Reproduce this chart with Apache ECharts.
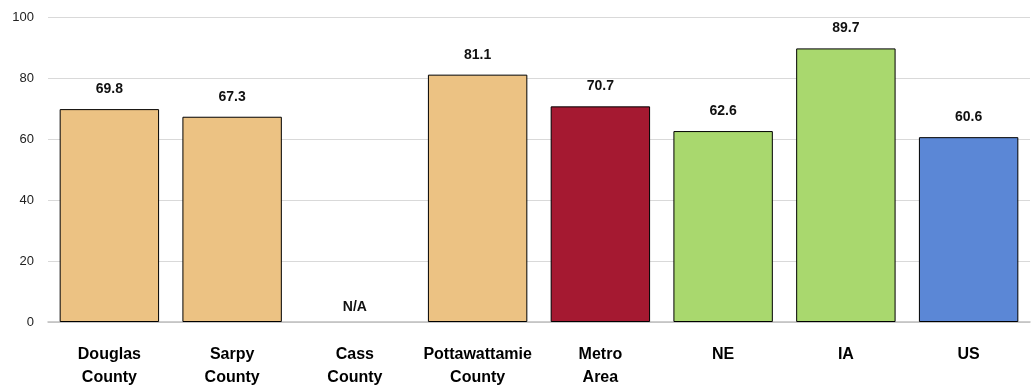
<!DOCTYPE html>
<html>
<head>
<meta charset="utf-8">
<script src="https://cdn.jsdelivr.net/npm/echarts@6/dist/echarts.min.js"></script>
<style>
  html, body { margin: 0; padding: 0; background: #fff; }
  #main { width: 1031px; height: 387px; }
</style>
</head>
<body>
<div id="main"></div>
<script>
// areas and their values (Cass County has no data)
var categories = ['Douglas\nCounty', 'Sarpy\nCounty', 'Cass\nCounty', 'Pottawattamie\nCounty', 'Metro\nArea', 'NE', 'IA', 'US'];
var values = [69.8, 67.3, null, 81.1, 70.7, 62.6, 89.7, 60.6];
var barColors = ['#ECC283', '#ECC283', '#ECC283', '#ECC283', '#A51931', '#A9D86E', '#A9D86E', '#5B87D6'];
var yTicks = [0, 20, 40, 60, 80, 100];

var chart = echarts.init(document.getElementById('main'));

var seriesData = [];
for (let i = 0; i < values.length; i++) {
  if (values[i] === null) {
    // no bar, only the N/A note
    seriesData.push({
      value: 0,
      itemStyle: { borderWidth: 0, color: 'transparent' },
      label: { formatter: 'N/A', distance: 8 }
    });
  } else {
    seriesData.push({
      value: values[i],
      itemStyle: { color: barColors[i] }
    });
  }
}

chart.setOption({
  animation: false,
  textStyle: { fontFamily: 'Liberation Sans, Arial, sans-serif' },
  grid: { left: 48, right: 1, top: 17, bottom: 65, outerBoundsMode: 'none' },
  xAxis: {
    type: 'category',
    data: categories,
    axisTick: { show: false },
    axisLine: { lineStyle: { color: '#bfbfbf', width: 1.5 } },
    axisLabel: {
      interval: 0,
      color: '#000',
      fontWeight: 'bold',
      fontSize: 16,
      lineHeight: 23,
      margin: 21
    }
  },
  yAxis: {
    type: 'value',
    min: yTicks[0],
    max: yTicks[yTicks.length - 1],
    interval: 20,
    axisLine: { show: false },
    axisTick: { show: false },
    splitLine: { lineStyle: { color: '#d9d9d9' } },
    axisLabel: { color: '#222', fontSize: 13, margin: 14 }
  },
  series: [
    {
      type: 'bar',
      data: seriesData,
      barCategoryGap: '19%',
      itemStyle: { borderColor: '#000', borderWidth: 1 },
      label: {
        show: true,
        position: 'top',
        distance: 13,
        color: '#111',
        fontWeight: 'bold',
        fontSize: 14,
        formatter: function (p) { return p.value.toFixed(1); }
      }
    }
  ]
});
</script>
</body>
</html>
